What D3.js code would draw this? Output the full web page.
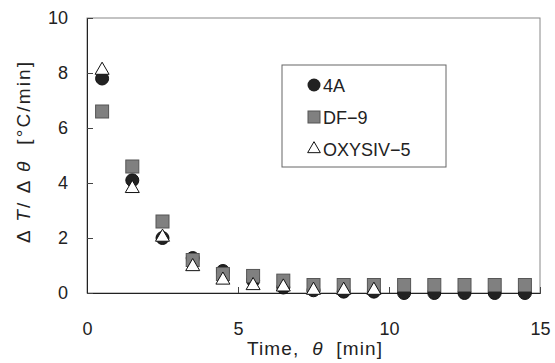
<!DOCTYPE html>
<html>
<head>
<meta charset="utf-8">
<script src="https://cdn.jsdelivr.net/npm/d3@7"></script>
<style>
  body { margin: 0; background: #fff; }
  text { font-family: "Liberation Sans", Arial, sans-serif; fill: #222; white-space: pre; }
</style>
</head>
<body>
<div id="chart"></div>
<script>
// data
const times = [0.5, 1.5, 2.5, 3.5, 4.5, 5.5, 6.5, 7.5, 8.5, 9.5, 10.5, 11.5, 12.5, 13.5, 14.5];
const rate4A = [7.8, 4.1, 2.0, 1.27, 0.8, 0.45, 0.2, 0.1, 0.05, 0.05, 0, 0, 0, 0, 0];
const rateDF9 = [6.6, 4.6, 2.6, 1.2, 0.69, 0.62, 0.45, 0.29, 0.29, 0.29, 0.29, 0.29, 0.29, 0.29, 0.29];
const rateOXY = [8.1, 3.8, 2.03, 0.96, 0.47, 0.27, 0.22, 0.1, 0.1, 0.1];
const xTicks = [0, 5, 10, 15];
const yTicks = [0, 2, 4, 6, 8, 10];

const W = 555, H = 363;
const margin = { top: 18, right: 15, bottom: 70, left: 87 };
const width = W - margin.left - margin.right;
const height = H - margin.top - margin.bottom;

const svg = d3.select("#chart").append("svg").attr("width", W).attr("height", H);
const g = svg.append("g").attr("transform", `translate(${margin.left},${margin.top})`);

const x = d3.scaleLinear().domain([0, 15]).range([0, width]);
const y = d3.scaleLinear().domain([0, 10]).range([height, 0]);

// frame
g.append("rect").attr("width", width).attr("height", height)
  .attr("fill", "none").attr("stroke", "#888").attr("stroke-width", 1);

// axes, ticks pointing inward
const xAxis = g.append("g").attr("transform", `translate(0,${height})`)
  .call(d3.axisBottom(x).tickValues(xTicks).tickSize(-6).tickPadding(29));
const yAxis = g.append("g")
  .call(d3.axisLeft(y).tickValues(yTicks).tickSize(-6).tickPadding(19));
[xAxis, yAxis].forEach(a => {
  a.select(".domain").attr("stroke", "#222");
  a.selectAll(".tick line").attr("stroke", "#444");
  a.selectAll(".tick text").style("font-size", "18px").attr("fill", "#222");
});

// markers: circle, square, triangle
g.append("g").selectAll("circle").data(rate4A).enter().append("circle")
  .attr("cx", (d, i) => x(times[i])).attr("cy", d => y(d)).attr("r", 6.5)
  .attr("fill", "#222").attr("stroke", "#111");

const sq = 13;
g.append("g").selectAll("rect").data(rateDF9).enter().append("rect")
  .attr("x", (d, i) => x(times[i]) - sq / 2).attr("y", d => y(d) - sq / 2)
  .attr("width", sq).attr("height", sq)
  .attr("fill", "#808080").attr("stroke", "#555");

const tri = d3.symbol().type(d3.symbolTriangle).size(85);
g.append("g").selectAll("path").data(rateOXY).enter().append("path")
  .attr("d", tri)
  .attr("transform", (d, i) => `translate(${x(times[i])},${y(d)})`)
  .attr("fill", "#fff").attr("stroke", "#111");

// legend
const lg = svg.append("g").attr("transform", "translate(282,65)");
lg.append("rect").attr("width", 164).attr("height", 102)
  .attr("fill", "#fff").attr("stroke", "#666");
const items = [
  { name: "4A", k: "c" },
  { name: "DF\u22129", k: "s" },
  { name: "OXYSIV\u22125", k: "t" }
];
items.forEach((it, i) => {
  const cy = 20 + i * 32, cx = 32;
  if (it.k === "c") lg.append("circle").attr("cx", cx).attr("cy", cy).attr("r", 6.5).attr("fill", "#222");
  if (it.k === "s") lg.append("rect").attr("x", cx - 6).attr("y", cy - 6).attr("width", 12).attr("height", 12)
    .attr("fill", "#808080").attr("stroke", "#555");
  if (it.k === "t") lg.append("path").attr("d", d3.symbol().type(d3.symbolTriangle).size(70))
    .attr("transform", `translate(${cx},${cy})`).attr("fill", "#fff").attr("stroke", "#111");
  lg.append("text").attr("x", cx + 9).attr("y", cy + 7).style("font-size", "18px").text(it.name);
});

// axis titles
const xt = svg.append("text").attr("x", 247).attr("y", 355).style("font-size", "19px")
  .attr("textLength", 135).attr("lengthAdjust", "spacing");
xt.append("tspan").text("Time,  ");
xt.append("tspan").style("font-style", "italic").text("\u03b8");
xt.append("tspan").text("  [min]");

const yt = svg.append("text").attr("transform", "translate(30,243) rotate(-90)")
  .style("font-size", "19px").attr("textLength", 181).attr("lengthAdjust", "spacing");
yt.append("tspan").text("\u0394 ");
yt.append("tspan").style("font-style", "italic").text("T");
yt.append("tspan").text("/ \u0394 ");
yt.append("tspan").style("font-style", "italic").text("\u03b8");
yt.append("tspan").text("  [\u00b0C/min]");
</script>
</body>
</html>
